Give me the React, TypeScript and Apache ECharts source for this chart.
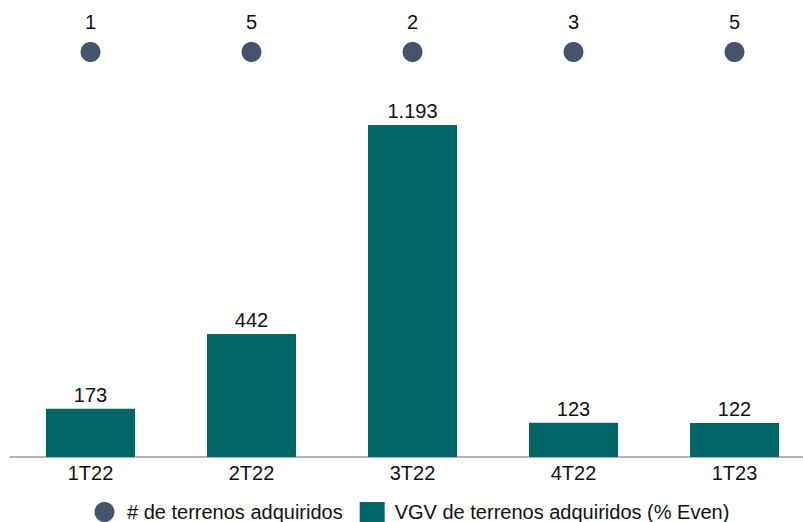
import React, { useEffect, useRef } from "react";
import * as echarts from "echarts";

const categories = ["1T22", "2T22", "3T22", "4T22", "1T23"];
const vgvValues = [173, 442, 1193, 123, 122];
const terrenosCount = [1, 5, 2, 3, 5];

const fmt = (v: number) => v.toLocaleString("pt-BR");

export default function App() {
  const ref = useRef<HTMLDivElement>(null);
  useEffect(() => {
    if (!ref.current) return;
    const chart = echarts.init(ref.current, null, { renderer: "svg" });
    const font = "Liberation Sans, Arial, sans-serif";
    const fs = 20;
    chart.setOption({
      animation: false,
      textStyle: { fontFamily: font },
      legend: {
        left: 89.5,
        bottom: -5,
        itemWidth: 25,
        itemHeight: 20,
        itemGap: 17,
        textStyle: {
          fontSize: fs,
          color: "#111",
          fontFamily: font,
          padding: [0, 0, 0, 5],
        },
        data: [
          { name: "# de terrenos adquiridos", icon: "circle" },
          { name: "VGV de terrenos adquiridos (% Even)", icon: "rect" },
        ],
      },
      grid: [
        { left: 10, width: 805, top: 67.4, height: 389.6, outerBoundsMode: "none" },
        { left: 10, width: 805, top: 40, height: 24, outerBoundsMode: "none" },
      ],
      xAxis: [
        {
          type: "category",
          gridIndex: 0,
          data: categories,
          axisLine: { lineStyle: { color: "#999", width: 1.5 } },
          axisTick: { show: false },
          axisLabel: { fontSize: fs, color: "#111", margin: 6, fontFamily: font },
        },
        {
          type: "category",
          gridIndex: 1,
          data: categories,
          show: false,
        },
      ],
      yAxis: [
        { type: "value", gridIndex: 0, min: 0, max: 1400, show: false },
        { type: "value", gridIndex: 1, min: 0, max: 2, show: false },
      ],
      series: [
        {
          name: "VGV de terrenos adquiridos (% Even)",
          type: "bar",
          xAxisIndex: 0,
          yAxisIndex: 0,
          data: vgvValues,
          barWidth: 89,
          itemStyle: { color: "#006769" },
          label: {
            show: true,
            position: "top",
            distance: 4,
            fontSize: fs,
            color: "#111",
            fontFamily: font,
            formatter: (p: any) => fmt(p.value),
          },
        },
        {
          name: "# de terrenos adquiridos",
          type: "scatter",
          xAxisIndex: 1,
          yAxisIndex: 1,
          symbol: "circle",
          symbolSize: 20,
          itemStyle: { color: "#44546a", opacity: 1 },
          data: terrenosCount.map((c, i) => ({ value: [categories[i], 1], count: c })),
          label: {
            show: true,
            position: "top",
            distance: 10,
            fontSize: fs,
            color: "#111",
            fontFamily: font,
            formatter: (p: any) => String(terrenosCount[p.dataIndex]),
          },
        },
      ],
    });
    return () => chart.dispose();
  }, []);
  return (
    <div
      ref={ref}
      style={{ position: "absolute", left: 0, top: 0, width: 803, height: 522 }}
    />
  );
}
